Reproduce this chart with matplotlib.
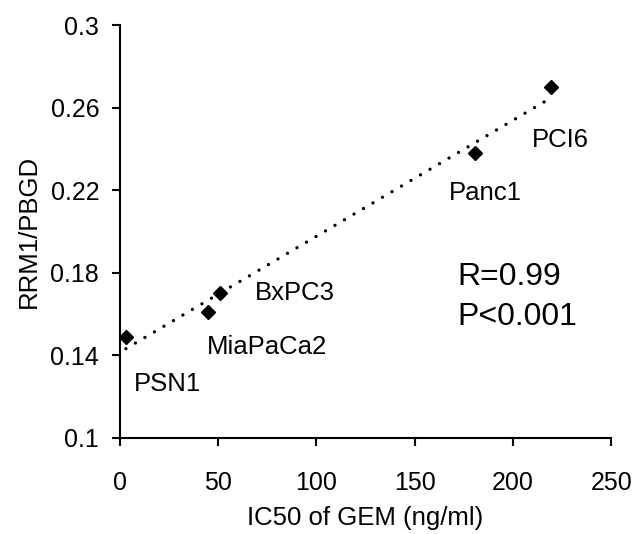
import numpy as np
import matplotlib
matplotlib.use('Agg')
import matplotlib.pyplot as plt

plt.rcParams['font.family'] = ['Liberation Sans', 'DejaVu Sans']

cell_lines = ['PSN1', 'MiaPaCa2', 'BxPC3', 'Panc1', 'PCI6']
ic50 = [3, 45, 51, 180.5, 219.5]
ratio = [0.149, 0.161, 0.170, 0.238, 0.270]
# where each cell line name sits (left edge, vertical centre)
label_pos = [(7, 0.126), (44.3, 0.144), (68.7, 0.170), (167.5, 0.2186), (209.8, 0.2443)]

fig = plt.figure(figsize=(6.37, 5.34), dpi=100)
ax = fig.add_axes([0.1884, 0.1798, 0.771, 0.7733])

ax.plot(ic50, ratio, 'D', color='black', markersize=7.5)

# linear trend line
k, b = np.polyfit(ic50, ratio, 1)
xs = np.array([ic50[0], ic50[-1] - 3])
ax.plot(xs, k * xs + b, color='black', linestyle=(0, (0.01, 3.3)), linewidth=2.4,
        dash_capstyle='round')

for name, (lx, ly) in zip(cell_lines, label_pos):
    ax.text(lx, ly, name, fontsize=18.5, va='center', ha='left')

ax.text(171.5, 0.178, 'R=0.99', fontsize=23, va='center', ha='left')
ax.text(171.5, 0.1585, 'P<0.001', fontsize=23, va='center', ha='left')

ax.set_xlim(0, 250)
ax.set_ylim(0.1, 0.3)
ax.set_xticks([0, 50, 100, 150, 200, 250])
ax.set_yticks([0.1, 0.14, 0.18, 0.22, 0.26, 0.3])
ax.set_yticklabels(['0.1', '0.14', '0.18', '0.22', '0.26', '0.3'])
ax.tick_params(labelsize=18, length=6, width=1.5, direction='out')
ax.tick_params(axis='x', pad=18)
ax.tick_params(axis='y', pad=9)

ax.spines['top'].set_visible(False)
ax.spines['right'].set_visible(False)
ax.spines['left'].set_linewidth(1.5)
ax.spines['bottom'].set_linewidth(1.5)

ax.set_xlabel('IC50 of GEM (ng/ml)', fontsize=18.5, labelpad=8)
ax.set_ylabel('RRM1/PBGD', fontsize=18.5, labelpad=7)

fig.savefig('out.png', dpi=100)
